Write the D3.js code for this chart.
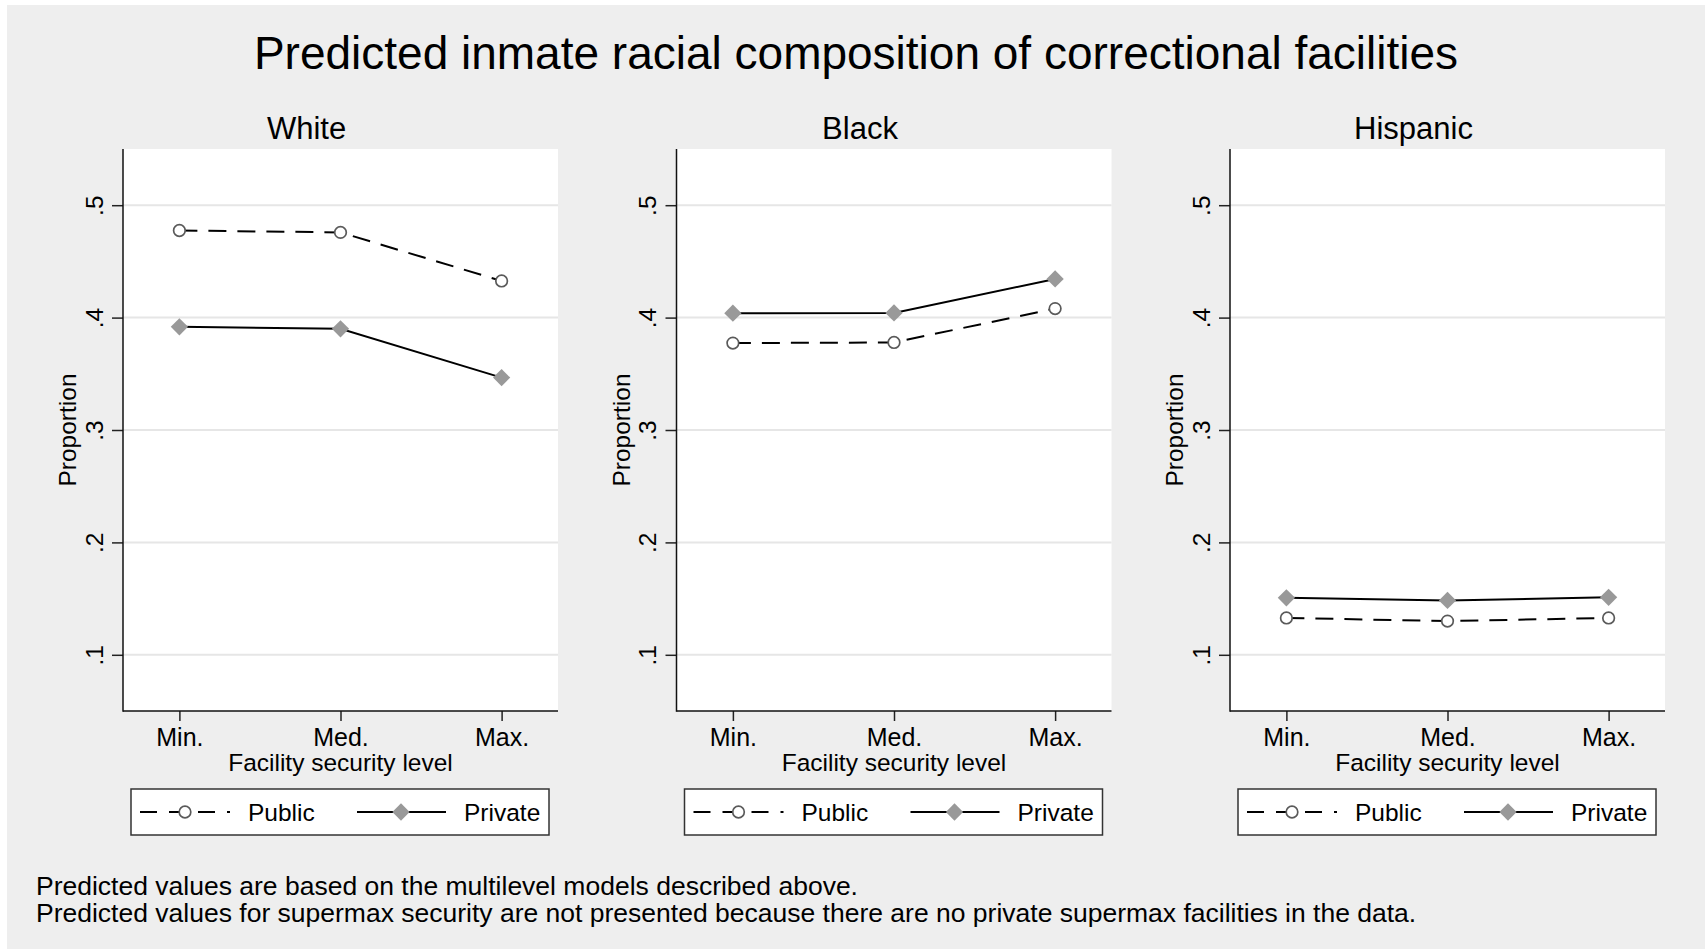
<!DOCTYPE html>
<html>
<head>
<meta charset="utf-8">
<script src="https://cdn.jsdelivr.net/npm/d3@7"></script>
<style>
  body { margin: 0; background: #ffffff; }
  svg { display: block; font-family: "Liberation Sans", Arial, sans-serif; }
</style>
</head>
<body>
<div id="container"></div>
<script>
// data
const levels = ["Min.", "Med.", "Max."]
const groups = ["White", "Black", "Hispanic"]
const publicWhite = [0.4775, 0.4758, 0.4326]
const privateWhite = [0.3918, 0.3900, 0.3466]
const publicBlack = [0.3773, 0.3779, 0.4080]
const privateBlack = [0.4039, 0.4041, 0.4344]
const publicHispanic = [0.1328, 0.1300, 0.1328]
const privateHispanic = [0.1507, 0.1484, 0.1511]
const yTicks = [0.1, 0.2, 0.3, 0.4, 0.5]
const seriesNames = ["Public", "Private"]
const footnotes = [
    "Predicted values are based on the multilevel models described above.",
    "Predicted values for supermax security are not presented because there are no private supermax facilities in the data."
]

const panelData = [
    {name: groups[0], pub: publicWhite, priv: privateWhite},
    {name: groups[1], pub: publicBlack, priv: privateBlack},
    {name: groups[2], pub: publicHispanic, priv: privateHispanic}
]

const width = 1705, height = 949
const container = d3.select("#container")
const svg = container.append("svg").attr("width", width).attr("height", height)

// graph region background
svg.append("rect")
   .attr("x", 7).attr("y", 5)
   .attr("width", width - 7).attr("height", height - 5)
   .attr("fill", "#eeeeee")

svg.append("text")
   .attr("x", 856).attr("y", 69)
   .attr("text-anchor", "middle")
   .attr("font-size", "46px")
   .text("Predicted inmate racial composition of correctional facilities")

const dash = "18,11"
const panelStep = 553.5
const plotW = 435, plotTop = 149, plotBottom = 711

const yScale = d3.scaleLinear().domain([0.05, 0.55]).range([plotBottom, plotTop])
const xScale = d3.scalePoint().domain(levels).range([0, plotW]).padding(0.35)

const diamond = d3.symbol().type(d3.symbolDiamond2).size(190)

panelData.forEach((p, i) => {
    const left = 123 + i * panelStep
    const g = svg.append("g").attr("transform", `translate(${left}, 0)`)

    // plot region
    g.append("rect")
     .attr("x", 0).attr("y", plotTop)
     .attr("width", plotW).attr("height", plotBottom - plotTop)
     .attr("fill", "#ffffff")

    // grid lines
    g.selectAll(".grid")
     .data(yTicks)
     .join("line")
     .attr("x1", 0).attr("x2", plotW)
     .attr("y1", d => yScale(d)).attr("y2", d => yScale(d))
     .attr("stroke", "#e6e6e6")
     .attr("stroke-width", 2)

    // y axis
    const yAxis = d3.axisLeft(yScale).tickValues(yTicks).tickSize(11).tickPadding(9)
                    .tickFormat(d => String(d).replace(/^0/, ""))
    const ya = g.append("g").call(yAxis)
    ya.select(".domain").remove()
    ya.selectAll(".tick line").attr("stroke", "#222").attr("stroke-width", 1.5)
    ya.selectAll(".tick text")
      .attr("font-size", "24.5px")
      .attr("fill", "#000")
      .attr("x", null).attr("dy", null)
      .attr("text-anchor", "middle")
      .attr("transform", "translate(-20.5, 0) rotate(-90)")

    // x axis
    const xAxis = d3.axisBottom(xScale).tickSize(10).tickPadding(7)
    const xa = g.append("g").attr("transform", `translate(0, ${plotBottom})`).call(xAxis)
    xa.select(".domain").remove()
    xa.selectAll(".tick line").attr("stroke", "#222").attr("stroke-width", 1.5)
    xa.selectAll(".tick text").attr("font-size", "25px").attr("fill", "#000")
      .attr("dy", null).attr("y", 34.5)

    g.append("line")
     .attr("x1", 0).attr("x2", 0).attr("y1", plotTop).attr("y2", plotBottom + 0.75)
     .attr("stroke", "#111").attr("stroke-width", 1.5)
    g.append("line")
     .attr("x1", 0).attr("x2", plotW).attr("y1", plotBottom).attr("y2", plotBottom)
     .attr("stroke", "#111").attr("stroke-width", 1.5)

    // titles
    g.append("text")
     .attr("x", 183.5).attr("y", 139)
     .attr("text-anchor", "middle")
     .attr("font-size", "31px")
     .text(p.name)
    g.append("text")
     .attr("x", plotW / 2).attr("y", 770.5)
     .attr("text-anchor", "middle")
     .attr("font-size", "24.5px")
     .text("Facility security level")
    g.append("text")
     .attr("transform", `translate(-47, ${(plotTop + plotBottom) / 2}) rotate(-90)`)
     .attr("text-anchor", "middle")
     .attr("font-size", "24.5px")
     .text("Proportion")

    // lines
    const line = d3.line().x((d, j) => xScale(levels[j])).y(d => yScale(d))
    g.append("path")
     .attr("d", line(p.pub))
     .attr("fill", "none").attr("stroke", "#000").attr("stroke-width", 2)
     .attr("stroke-dasharray", dash)
    g.append("path")
     .attr("d", line(p.priv))
     .attr("fill", "none").attr("stroke", "#000").attr("stroke-width", 2)

    // markers
    g.selectAll(".pub")
     .data(p.pub)
     .join("circle")
     .attr("cx", (d, j) => xScale(levels[j]))
     .attr("cy", d => yScale(d))
     .attr("r", 5.8)
     .attr("fill", "#ffffff").attr("stroke", "#5a5a5a").attr("stroke-width", 1.7)
    g.selectAll(".priv")
     .data(p.priv)
     .join("path")
     .attr("d", diamond)
     .attr("transform", (d, j) => `translate(${xScale(levels[j])}, ${yScale(d)})`)
     .attr("fill", "#999999")

    // legend
    const lg = g.append("g").attr("transform", "translate(8, 789)")
    lg.append("rect")
      .attr("width", 418).attr("height", 46)
      .attr("fill", "#ffffff").attr("stroke", "#333").attr("stroke-width", 1.5)
    lg.append("line")
      .attr("x1", 9).attr("x2", 99).attr("y1", 23).attr("y2", 23)
      .attr("stroke", "#000").attr("stroke-width", 2).attr("stroke-dasharray", "17,12")
    lg.append("circle")
      .attr("cx", 54).attr("cy", 23).attr("r", 5.8)
      .attr("fill", "#ffffff").attr("stroke", "#5a5a5a").attr("stroke-width", 1.7)
    lg.append("line")
      .attr("x1", 226).attr("x2", 315).attr("y1", 23).attr("y2", 23)
      .attr("stroke", "#000").attr("stroke-width", 2)
    lg.append("path")
      .attr("d", diamond)
      .attr("transform", "translate(270, 23)")
      .attr("fill", "#999999")
    lg.selectAll(".lt")
      .data(seriesNames)
      .join("text")
      .attr("x", (d, j) => j === 0 ? 117 : 333)
      .attr("y", 32)
      .attr("font-size", "24.5px")
      .text(d => d)
})

svg.selectAll(".note")
   .data(footnotes)
   .join("text")
   .attr("x", 36)
   .attr("y", (d, i) => 894.5 + i * 27)
   .attr("font-size", "26.5px")
   .text(d => d)
</script>
</body>
</html>
